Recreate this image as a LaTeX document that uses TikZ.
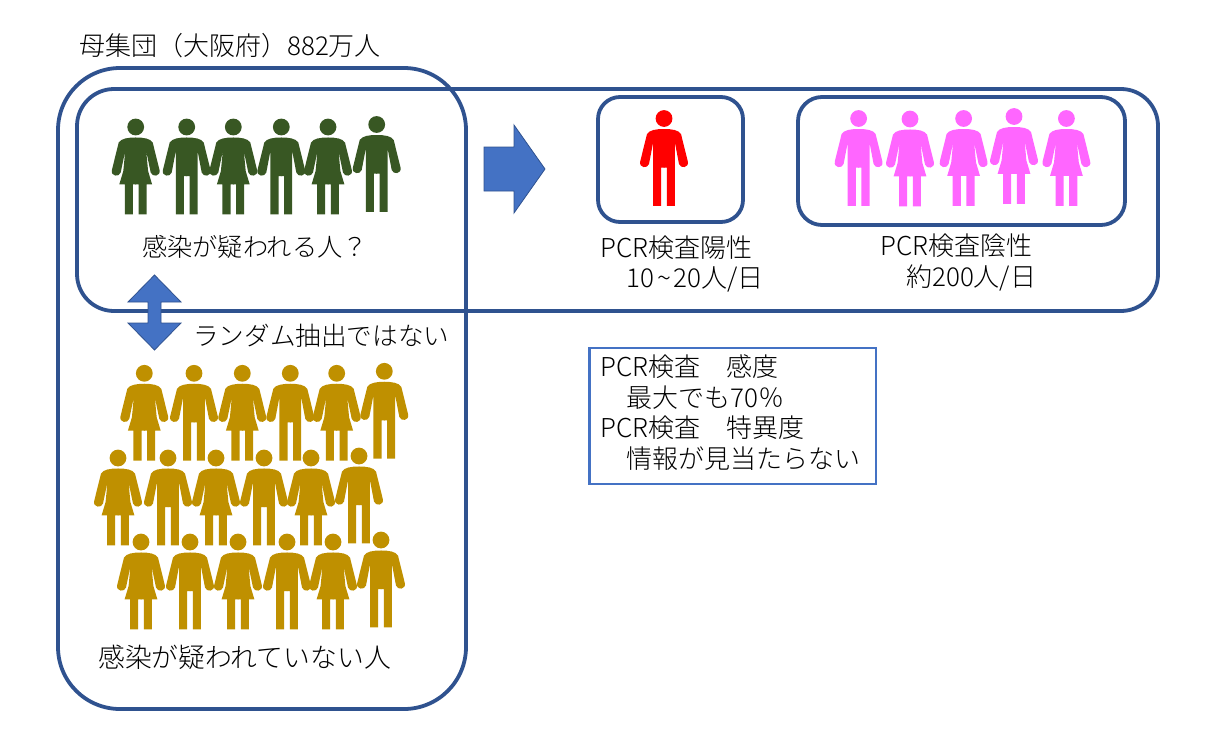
\documentclass[tikz,border=0pt]{standalone}
\usepackage{xcolor}
\usepackage{fontspec}
\setmainfont{Noto Sans CJK JP}[UprightFont={* Light}]
\usetikzlibrary{positioning}
\definecolor{framecol}{HTML}{2F528F}
\definecolor{arrowcol}{HTML}{4472C4}
\definecolor{greencol}{HTML}{385723}
\definecolor{goldcol}{HTML}{BF9000}
\definecolor{pinkcol}{HTML}{FF66FF}
\tikzset{
    man/.pic={
        \fill (0,0) circle (8.4);
        \foreach \s in {1,-1} {
            \fill[xscale=\s] (-0.5,10.5) -- (0,10.5) .. controls (8,10.5) and (14.5,11.5) .. (17,15.5) -- (23.8,43)
                .. controls (25.2,49.5) and (16.5,50.5) .. (15,45.5) -- (10.9,24) -- (10.9,87.4) -- (2.8,87.4) -- (2.8,49) -- (-0.5,49) -- cycle;
        }
    },
    woman/.pic={
        \fill (0,0) circle (8.4);
        \foreach \s in {1,-1} {
            \fill[xscale=\s] (-0.5,10.5) -- (0,10.5) .. controls (8,10.5) and (14.5,11.5) .. (17,15.5) -- (23.8,43)
                .. controls (25.2,49.5) and (16.5,50.5) .. (15,45.5) -- (10.5,24) -- (12.4,44) -- (16.4,57.4) -- (10.9,57.4) -- (10.9,87.4) -- (2.8,87.4) -- (2.8,57.4) -- (-0.5,57.4) -- cycle;
        }
    },
    frameline/.style={draw=framecol, line width=3.8pt},
    blockarrow/.style={fill=arrowcol, draw=framecol, line width=0.8pt},
    caption/.style={anchor=west, inner sep=0pt, font=\fontsize{26}{30}\selectfont}
}
\begin{document}
\begin{tikzpicture}[x=1pt, y=-1pt]
\useasboundingbox (0,0) rectangle (1217,728);

\draw[frameline, rounded corners=37pt] (77,89) rectangle (1158,311);
\draw[frameline, rounded corners=62pt] (58,68) rectangle (466,709);
\draw[frameline, rounded corners=22pt] (598,97) rectangle (743,222);
\draw[frameline, rounded corners=24pt] (798,97) rectangle (1125,225);
\draw[draw=arrowcol, line width=2.6pt] (589.5,348) rectangle (876,484);

\fill[blockarrow] (484,147) -- (514,147) -- (514,125) -- (545,169) -- (514,213) -- (514,191) -- (484,191) -- cycle;
\fill[blockarrow] (154.5,275) -- (181,302) -- (161,302) -- (161,323) -- (181,323) -- (154.5,350) -- (128,323) -- (148,323) -- (148,302) -- (128,302) -- cycle;

\begin{scope}[fill=greencol]
    \pic (g1) at (135.7,127) {woman};
    \pic (g2) at (186.7,127) {man};
    \pic (g3) at (233.3,127) {woman};
    \pic (g4) at (281.3,127) {man};
    \pic (g5) at (328,127) {woman};
    \pic (g6) at (376.7,124.5) {man};
\end{scope}

\begin{scope}[fill=red]
    \pic (r1) at (664,118.5) {man};
\end{scope}

\begin{scope}[fill=pinkcol]
    \pic (p1) at (858.6,118.5) {man};
    \pic (p2) at (910,119) {woman};
    \pic (p3) at (963.6,118.5) {woman};
    \pic (p4) at (1014,116.5) {woman};
    \pic (p5) at (1066.4,118.5) {woman};
\end{scope}

\begin{scope}[fill=goldcol]
    \pic (a1) at (144.3,373.3) {woman};
    \pic (a2) at (194,373.3) {man};
    \pic (a3) at (242.3,373.3) {woman};
    \pic (a4) at (290.3,373.3) {man};
    \pic (a5) at (336.7,373.3) {woman};
    \pic (a6) at (384.3,371.3) {man};

    \pic (b1) at (118,458) {woman};
    \pic (b2) at (168,458) {man};
    \pic (b3) at (216,458) {woman};
    \pic (b4) at (264,458) {man};
    \pic (b5) at (311,458) {woman};
    \pic (b6) at (359,456) {man};

    \pic (c1) at (141,542) {woman};
    \pic (c2) at (190,542) {man};
    \pic (c3) at (238,542) {woman};
    \pic (c4) at (287,542) {man};
    \pic (c5) at (333,542) {woman};
    \pic (c6) at (381,540) {man};
\end{scope}

\begin{scope}[every node/.style={caption}]
    \node (popu) at (79,46) {母集団（大阪府）882万人};
    \node[font=\fontsize{25.2}{30}\selectfont] (susp) at (142,247) {感染が疑われる人？};
    \node (posi) at (600,248) {PCR検査陽性};
    \node (posn) at (626,279) {10\kern3pt\textasciitilde\kern3pt 20人/日};
    \node (nega) at (880,246) {PCR検査陰性};
    \node (negn) at (906,278) {約200人/日};
    \node[font=\fontsize{25.6}{30}\selectfont] (rand) at (193,336) {ランダム抽出ではない};
    \node (sens) at (600,367) {PCR検査　感度};
    \node (senv) at (626,398) {最大でも70％};
    \node (spec) at (600,428) {PCR検査　特異度};
    \node (spev) at (626,459) {情報が見当たらない};
    \node[font=\fontsize{26.8}{30}\selectfont] (rest) at (98,657) {感染が疑われていない人};
\end{scope}

\end{tikzpicture}
\end{document}
